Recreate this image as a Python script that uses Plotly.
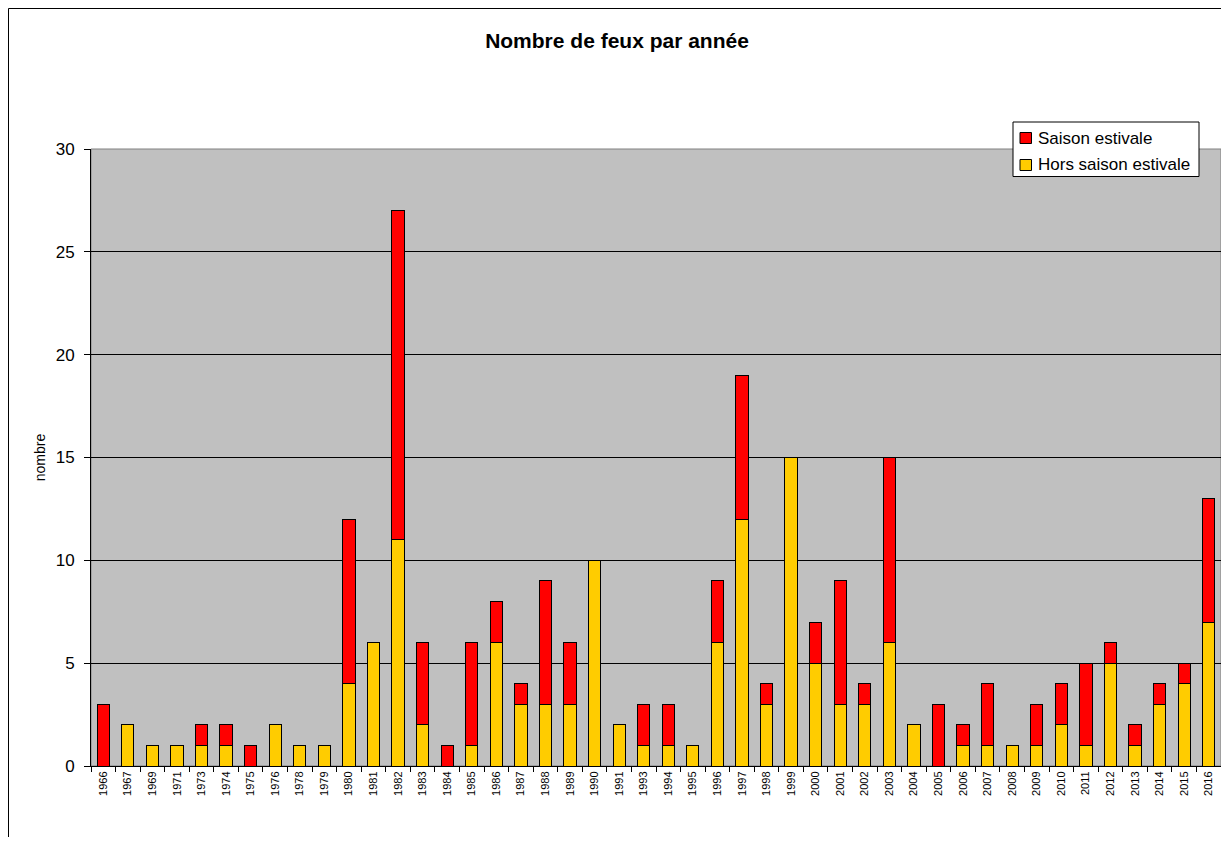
import plotly.graph_objects as go

years = ["1966","1967","1969","1971","1973","1974","1975","1976","1978","1979",
         "1980","1981","1982","1983","1984","1985","1986","1987","1988","1989",
         "1990","1991","1993","1994","1995","1996","1997","1998","1999","2000",
         "2001","2002","2003","2004","2005","2006","2007","2008","2009","2010",
         "2011","2012","2013","2014","2015","2016"]
hors_saison = [0,2,1,1,1,1,0,2,1,1,
               4,6,11,2,0,1,6,3,3,3,
               10,2,1,1,1,6,12,3,15,5,
               3,3,6,2,0,1,1,1,1,2,
               1,5,1,3,4,7]
saison = [3,0,0,0,1,1,1,0,0,0,
          8,0,16,4,1,5,2,1,6,3,
          0,0,2,2,0,3,7,1,0,2,
          6,1,9,0,3,1,3,0,2,2,
          4,1,1,1,1,6]
series_names = ["Saison estivale", "Hors saison estivale"]
series_colors = ["#FF0000", "#FFCC00"]

# page offset of the figure (browser body margin)
OFF = 8
W, H = 1213, 829
# plot area in page coordinates
PL, PR, PT, PB = 91, 1221, 149, 766
L, R, T, B = PL - OFF, W - (PR - OFF), PT - OFF, H - (PB - OFF)
pw, ph = PR - PL, PB - PT

def px(x): return (x - PL) / pw
def py(y): return (PB - y) / ph

fig = go.Figure()
fig.add_trace(go.Bar(x=years, y=hors_saison, name=series_names[1], showlegend=False,
                     marker=dict(color=series_colors[1], line=dict(color="black", width=1))))
fig.add_trace(go.Bar(x=years, y=saison, name=series_names[0], showlegend=False,
                     marker=dict(color=series_colors[0], line=dict(color="black", width=1))))

fig.update_layout(
    width=W, height=H,
    margin=dict(l=L, r=R, t=T, b=B, pad=0),
    barmode="stack", bargap=0.5,
    paper_bgcolor="white", plot_bgcolor="#C0C0C0",
    font=dict(family="Liberation Sans, Arial, sans-serif", color="black"),
    title=dict(text="<b>Nombre de feux par année</b>", x=px(617), xanchor="center",
               xref="paper",
               y=1 - (41 - OFF) / H, yanchor="middle", font=dict(size=21)),
    showlegend=False,
)
fig.update_xaxes(type="category", tickangle=-90, tickfont=dict(size=11),
                 showline=True, linecolor="black", linewidth=1,
                 ticks="outside", tickson="boundaries", ticklen=5, tickcolor="black",
                 showgrid=False, mirror=False)
fig.update_yaxes(range=[0, 30], dtick=5, tickfont=dict(size=17),
                 showline=True, linecolor="black", linewidth=1,
                 ticks="outside", ticklen=6, tickcolor="black", ticklabelstandoff=6,
                 showgrid=True, gridcolor="black", gridwidth=1, zeroline=False,
                 title=dict(text="nombre", font=dict(size=14), standoff=6))

# plot area border and outer chart border
fig.add_shape(type="rect", xref="paper", yref="paper", x0=0, y0=0, x1=1, y1=1,
              line=dict(color="#808080", width=1), layer="below")
fig.add_shape(type="rect", xref="paper", yref="paper",
              x0=px(8.5), y0=py(900), x1=px(1300), y1=py(8.5),
              line=dict(color="black", width=1))

# legend box
fig.add_shape(type="rect", xref="paper", yref="paper",
              x0=px(1013), y0=py(176.5), x1=px(1199), y1=py(122),
              line=dict(color="black", width=1), fillcolor="white", layer="above")
row_y = [138, 165]
for name, color, yc in zip(series_names, series_colors, row_y):
    fig.add_shape(type="rect", xref="paper", yref="paper",
                  x0=px(1020), y0=py(yc + 5.5), x1=px(1031.5), y1=py(yc - 5.5),
                  line=dict(color="black", width=1), fillcolor=color, layer="above")
    fig.add_annotation(xref="paper", yref="paper", x=px(1036), y=py(yc),
                       xanchor="left", yanchor="middle", showarrow=False,
                       text=name, font=dict(size=17))

fig.write_html("out.html")
